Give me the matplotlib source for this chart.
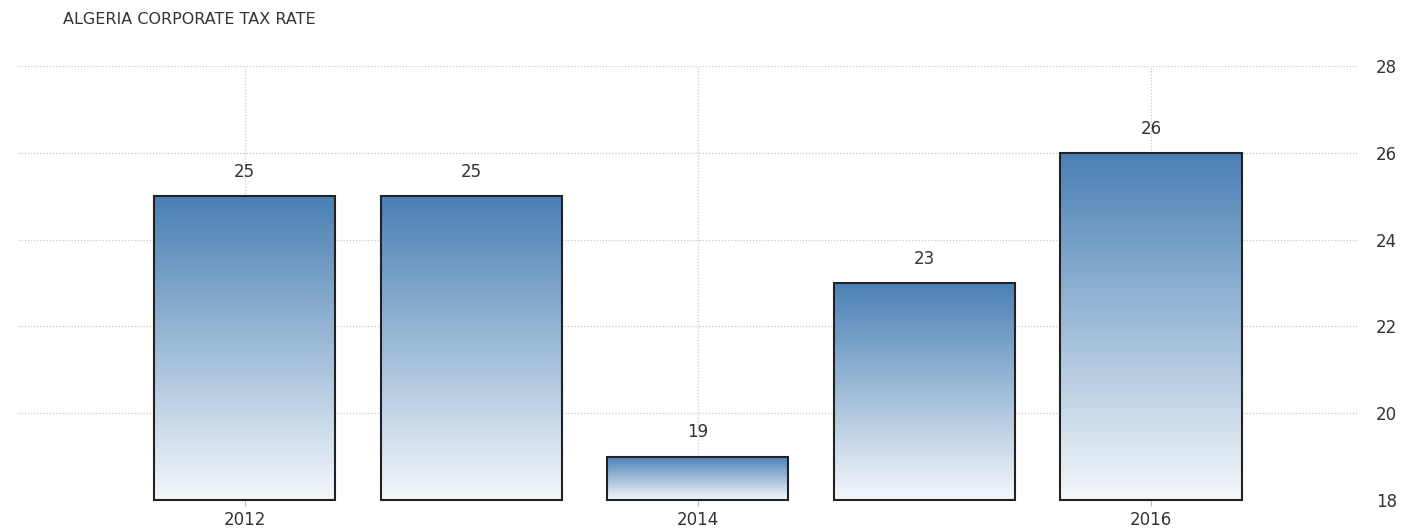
import matplotlib
matplotlib.use("Agg")
import matplotlib.pyplot as plt
import numpy as np
from matplotlib.colors import LinearSegmentedColormap

years = [2012, 2013, 2014, 2015, 2016]
rates = [25, 25, 19, 23, 26]
xtick_years = [2012, 2014, 2016]
yticks = [18, 20, 22, 24, 26, 28]

fig = plt.figure(figsize=(14.09, 5.32), dpi=100)
ax = fig.add_axes([0.0128, 0.060, 0.952, 0.816])

ymin, ymax = 18, 28
ax.set_xlim(2011.0, 2016.92)
ax.set_ylim(ymin, ymax)

cmap = LinearSegmentedColormap.from_list("blu", ["#f4f8fb", "#4a80b5"])
grad = np.linspace(0, 1, 256).reshape(-1, 1)

bars = ax.bar(years, [r - ymin for r in rates], bottom=ymin, width=0.8,
              facecolor="none", edgecolor="#222222", linewidth=1.5, zorder=3,
              clip_on=False)
for b, r in zip(bars, rates):
    x0 = b.get_x()
    w = b.get_width()
    im = ax.imshow(grad, cmap=cmap, origin="lower", aspect="auto",
                   extent=[x0, x0 + w, ymin, r], zorder=2)
    im.set_clip_path(b)
    ax.text(x0 + w / 2, r + 0.35, str(r), ha="center", va="bottom",
            fontsize=12, color="#333333")

ax.set_xlim(2011.0, 2016.92)
ax.set_ylim(ymin, ymax)

ax.set_yticks(yticks)
ax.yaxis.tick_right()
ax.set_xticks(xtick_years)
ax.set_xticklabels([str(y) for y in xtick_years])
ax.tick_params(axis="y", length=0, pad=12, labelsize=12, labelcolor="#333333")
ax.tick_params(axis="x", length=4, color="#bbbbbb", pad=4, labelsize=12,
               labelcolor="#333333")
ax.grid(True, color="#c8c8c8", linestyle=(0, (1, 1.5)), linewidth=0.9, zorder=0)
ax.set_axisbelow(True)
for s in ax.spines.values():
    s.set_visible(False)

fig.text(63 / 1409, 1 - 20 / 532, "ALGERIA CORPORATE TAX RATE", fontsize=11.5,
         color="#333333", va="center", ha="left")

fig.savefig("out.png", dpi=100)
